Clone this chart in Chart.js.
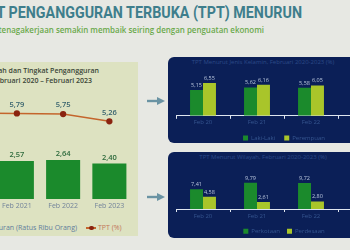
<!DOCTYPE html>
<html>
<head>
  <meta charset="utf-8">
  <title>TPT Menurun</title>
  <script src="https://cdn.jsdelivr.net/npm/chart.js"></script>
  <style>
    html, body { margin: 0; padding: 0; }
    body {
      width: 350px; height: 250px; overflow: hidden; position: relative;
      background: #e7e8e3;
      font-family: "Open Sans", "Noto Sans", sans-serif;
    }
    .abs { position: absolute; white-space: nowrap; }
    #title {
      right: 48px; top: 2px;
      font: 700 17px "Liberation Sans Narrow", "Roboto", sans-serif;
      color: #3e7e8c;
      transform: scaleX(0.84); transform-origin: right center;
    }
    #subtitle { right: 86px; top: 25px; font-size: 7.95px; font-weight: 600; color: #6aa94b; }
    #leftPanel { left: 0; top: 62px; width: 138px; height: 174px; background: #dde2c1; }
    .leftHead { font-size: 7px; font-weight: 600; color: #3b4638; }
    #head1 { right: 251px; top: 66px; }
    #head2 { right: 258px; top: 76px; }
    #leftChartBox { left: -58px; top: 90px; width: 196px; height: 123.4px; }
    #leftLegend { top: 223px; left: 0; width: 140px; height: 10px; font-size: 7px; }
    .panel { left: 168px; width: 200px; height: 86px; background: #0b1f57; border-radius: 6px; }
    #panelTop { top: 57px; }
    #panelBottom { top: 152px; }
    .panelTitle { left: 168px; width: 190px; text-align: center; font-size: 6px; color: #2b4a88; }
    #titleTop { top: 58px; }
    #titleBottom { top: 153px; }
    #rightTopBox { left: 176px; top: 70px; width: 216px; height: 81px; }
    #rightBottomBox { left: 176px; top: 174px; width: 216px; height: 70.2px; }
    .arrow { left: 146px; width: 20px; height: 10px; }
  </style>
</head>
<body>
  <div id="title" class="abs">TINGKAT PENGANGGURAN TERBUKA (TPT) MENURUN</div>
  <div id="subtitle" class="abs">Ketenagakerjaan semakin membaik seiring dengan penguatan ekonomi</div>

  <div id="leftPanel" class="abs"></div>
  <div id="head1" class="abs leftHead">Jumlah dan Tingkat Pengangguran</div>
  <div id="head2" class="abs leftHead">Februari 2020 – Februari 2023</div>
  <div id="leftChartBox" class="abs"><canvas id="leftChart"></canvas></div>
  <div id="leftLegend" class="abs"></div>

  <svg class="abs arrow" style="top:96px" viewBox="0 0 20 10"><path d="M1 5 H12" stroke="#6a93a3" stroke-width="2.4"/><path d="M11 1 L19 5 L11 9 Z" fill="#6a93a3"/></svg>
  <svg class="abs arrow" style="top:192px" viewBox="0 0 20 10"><path d="M1 5 H12" stroke="#6a93a3" stroke-width="2.4"/><path d="M11 1 L19 5 L11 9 Z" fill="#6a93a3"/></svg>

  <div id="panelTop" class="abs panel"></div>
  <div id="titleTop" class="abs panelTitle">TPT Menurut Jenis Kelamin, Februari 2020-2023 (%)</div>
  <div id="rightTopBox" class="abs"><canvas id="genderChart"></canvas></div>

  <div id="panelBottom" class="abs panel"></div>
  <div id="titleBottom" class="abs panelTitle">TPT Menurut Wilayah, Februari 2020-2023 (%)</div>
  <div id="rightBottomBox" class="abs"><canvas id="regionChart"></canvas></div>

  <script>
    // data (Feb 2020 group on the left and Feb 23 group on the right are cropped out)
    const periodsLeft = ['Feb 2020', 'Feb 2021', 'Feb 2022', 'Feb 2023'];
    const jumlahPengangguran = [null, 2.57, 2.64, 2.40];
    const tptTotal = [5.82, 5.79, 5.75, 5.26];

    const periodsRight = ['Feb 20', 'Feb 21', 'Feb 22', 'Feb 23'];
    const tptLakiLaki = [5.15, 5.62, 5.58, null];
    const tptPerempuan = [6.55, 6.16, 6.05, null];
    const tptPerkotaan = [7.41, 9.79, 9.72, null];
    const tptPerdesaan = [4.58, 2.61, 2.80, null];

    const green = '#1b8a2c';
    const lime = '#a9c52a';
    const fmt = v => v.toFixed(2).replace('.', ',');

    // small labels above bars / points
    const valueLabels = {
      id: 'valueLabels',
      afterDatasetsDraw(chart, args, opts) {
        const ctx = chart.ctx;
        ctx.save();
        ctx.textAlign = 'center';
        ctx.textBaseline = 'bottom';
        chart.data.datasets.forEach((ds, i) => {
          const st = opts.styles[i];
          ctx.font = st.font;
          ctx.fillStyle = st.color;
          chart.getDatasetMeta(i).data.forEach((el, j) => {
            const v = ds.data[j];
            if (v == null) return;
            ctx.fillText(fmt(v), el.x, el.y - st.gap);
          });
        });
        ctx.restore();
      }
    };

    Chart.defaults.font.family = '"Open Sans", "Noto Sans", sans-serif';
    Chart.defaults.animation = false;

    const leftChart = new Chart(document.getElementById('leftChart'), {
      data: {
        labels: periodsLeft,
        datasets: [
          {
            type: 'line',
            label: 'TPT (%)',
            data: tptTotal,
            borderColor: '#c4652c',
            borderWidth: 1.5,
            pointRadius: 2.4,
            pointBackgroundColor: '#8a2410',
            pointBorderColor: '#8a2410',
            tension: 0
          },
          {
            type: 'bar',
            label: 'Jumlah Pengangguran (Ratus Ribu Orang)',
            data: jumlahPengangguran,
            backgroundColor: green,
            categoryPercentage: 0.8,
            barPercentage: 0.92
          }
        ]
      },
      options: {
        responsive: true,
        maintainAspectRatio: false,
        layout: { padding: { top: 5.6, left: 0, right: 0, bottom: 0 } },
        plugins: {
          legend: { display: false },
          tooltip: { enabled: false },
          valueLabels: {
            styles: [
              { font: '600 7.5px "Open Sans", sans-serif', color: '#34606c', gap: 5 },
              { font: '600 7.5px "Open Sans", sans-serif', color: '#2d6a3c', gap: 2 }
            ]
          }
        },
        scales: {
          x: {
            grid: { display: false, drawTicks: false },
            border: { display: false },
            ticks: { color: '#72839a', font: { size: 7 }, padding: 3 }
          },
          y: { display: false, min: 0, max: 7 }
        }
      },
      plugins: [valueLabels]
    });

    // html legend for the cropped left chart, built from the chart's datasets
    const legendEl = document.getElementById('leftLegend');
    const barDs = leftChart.data.datasets[1];
    const lineDs = leftChart.data.datasets[0];
    legendEl.innerHTML =
      '<span class="abs" style="right:63px;top:0;color:#5f7d9c">' +
        '<span style="display:inline-block;width:7px;height:7px;background:' + barDs.backgroundColor + ';margin-right:4px"></span>' +
        barDs.label + '</span>' +
      '<span class="abs" style="left:86px;top:0;color:#c2775a">' +
        '<span style="display:inline-block;position:relative;width:10px;height:7px;margin-right:2px;vertical-align:-1px">' +
          '<span style="position:absolute;left:0;top:3px;width:10px;height:1.5px;background:' + lineDs.borderColor + '"></span>' +
          '<span style="position:absolute;left:3px;top:1.5px;width:4.5px;height:4.5px;border-radius:50%;background:' + lineDs.pointBackgroundColor + '"></span>' +
        '</span>' + lineDs.label + '</span>';

    function pairChart(id, labels, a, b, names, yMax, tickPad, legendPad) {
      return new Chart(document.getElementById(id), {
        type: 'bar',
        data: {
          labels: labels,
          datasets: [
            { label: names[0], data: a, backgroundColor: green, categoryPercentage: 0.48, barPercentage: 1 },
            { label: names[1], data: b, backgroundColor: lime, categoryPercentage: 0.48, barPercentage: 1 }
          ]
        },
        options: {
          responsive: true,
          maintainAspectRatio: false,
          layout: { padding: { top: 5.6, left: 0, right: 0, bottom: 0 } },
          plugins: {
            legend: {
              position: 'bottom',
              labels: { color: '#35558f', font: { size: 6 }, boxWidth: 5, boxHeight: 5, padding: legendPad }
            },
            tooltip: { enabled: false },
            valueLabels: {
              styles: [
                { font: '5.5px "Open Sans", sans-serif', color: '#b9c6dc', gap: 2 },
                { font: '5.5px "Open Sans", sans-serif', color: '#b9c6dc', gap: 2 }
              ]
            }
          },
          scales: {
            x: {
              grid: { display: true, drawOnChartArea: false, color: '#dfe6f0', tickLength: 3 },
              border: { display: true, color: '#dfe6f0', width: 1 },
              ticks: { color: '#35558f', font: { size: 6 }, padding: tickPad }
            },
            y: { display: false, min: 0, max: yMax }
          }
        },
        plugins: [valueLabels]
      });
    }

    pairChart('genderChart', periodsRight, tptLakiLaki, tptPerempuan, ['Laki-Laki', 'Perempuan'], 8, 0, 9);
    pairChart('regionChart', periodsRight, tptPerkotaan, tptPerdesaan, ['Perkotaan', 'Perdesaan'], 11, 1, 7);
  </script>
</body>
</html>
